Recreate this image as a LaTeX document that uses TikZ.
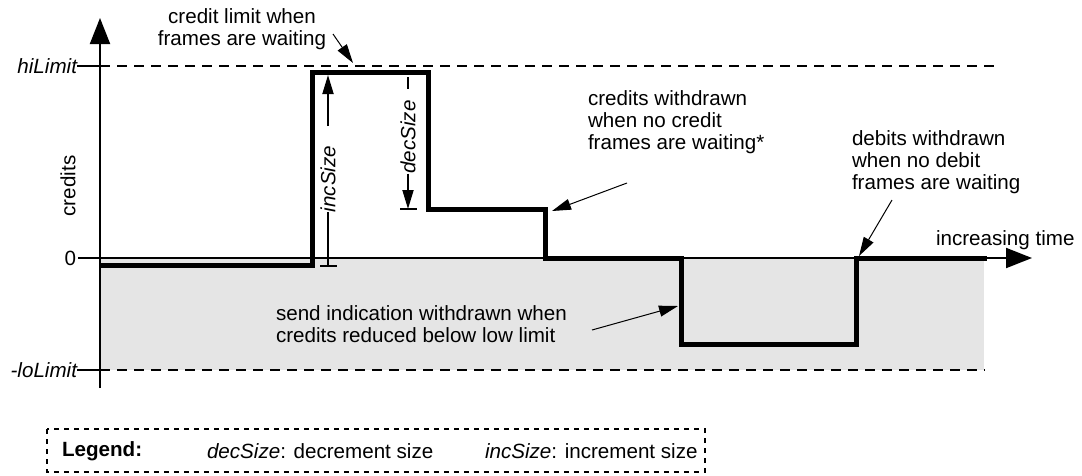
\documentclass[tikz,border=0pt]{standalone}
\usepackage{fontspec}
\setmainfont{Liberation Sans}
\usetikzlibrary{arrows.meta}
\begin{document}
\begin{tikzpicture}[x=1pt,y=-1pt,
  every node/.style={font=\fontsize{20.6}{22}\selectfont, inner sep=0pt, outer sep=0pt},
  axis/.style={line width=2pt},
  lim/.style={line width=2pt, dash pattern=on 10pt off 7pt},
  sig/.style={line width=5pt, line cap=butt, line join=miter},
  bigtip/.style={-{Triangle[length=26pt,width=20pt]}},
  note/.style={line width=1pt, -{Triangle[length=19pt,width=11pt]}},
  dim/.style={line width=1.8pt},
  dimtip/.style={-{Triangle[length=19pt,width=11pt]}},
  label/.style={align=left, anchor=west},
  itlabel/.style={font=\fontsize{20.6}{22}\selectfont\itshape},
  axlabel/.style={anchor=east, itlabel}
]
\useasboundingbox (0,0) rectangle (1082,475);

% region below zero
\fill[gray!20] (100,258) rectangle (984,370);

% axes
\coordinate (ybot) at (100,388);
\coordinate (ytop) at (100,18);
\coordinate (zstart) at (78,258);
\coordinate (zend) at (1032,258);
\draw[axis,bigtip] (ybot) -- (ytop);
\draw[axis,bigtip] (zstart) -- (zend);

% limits
\node[axlabel] (hi) at (77,66) {hiLimit};
\node[axlabel] (lo) at (77,370) {-loLimit};
\node[anchor=east] (zero) at (76,258) {0};
\coordinate (hiA) at (100,66);  \coordinate (hiB) at (1000,66);
\coordinate (loA) at (100,370); \coordinate (loB) at (985,370);
\draw[axis] (hi.east) -- (hiA);
\draw[axis] (lo.east) -- (loA);
\draw[lim] (hiA) -- (hiB);
\draw[lim] (loA) -- (loB);

\node[rotate=90] (credits) at (68,186) {credits};
\node[anchor=west] (time) at (936,240) {increasing time};

% credit signal
\draw[sig] (100,265) -| (312,72) -| (428,209) -| (545,258) -| (681,344) -| (856,258) -- (987,258);

% incSize dimension
\node[rotate=90, itlabel] (inc) at (328,179) {incSize};
\coordinate (incBot) at (328,266);
\coordinate (incMid) at (328,126);
\coordinate (incTop) at (328,75);
\draw[dim] (320,266) -- (337,266);
\draw[dim] (incBot) -- (inc.west);
\draw[dim,dimtip] (incMid) -- (incTop);

% decSize dimension
\node[rotate=90, itlabel] (dec) at (408,137) {decSize};
\coordinate (decTop) at (408,77);
\coordinate (decMid) at (408,89);
\coordinate (decBot) at (408,209);
\draw[dim] (decTop) -- (decMid);
\draw[dim,dimtip] (dec.west) -- (decBot);
\draw[dim] (400,209) -- (417,209);

% annotations
\node[align=center] (nHi) at (242,29) {credit limit when\\frames are waiting};
\coordinate (nHiS) at (333,34);
\coordinate (nHiT) at (353,63);
\draw[note] (nHiS) -- (nHiT);

\node[label] (nCr) at (588,122) {credits withdrawn\\when no credit\\frames are waiting*};
\coordinate (nCrS) at (627,183);
\coordinate (nCrT) at (552,211);
\draw[note] (nCrS) -- (nCrT);

\node[label] (nDb) at (852,162) {debits withdrawn\\when no debit\\frames are waiting};
\coordinate (nDbS) at (892,200);
\coordinate (nDbT) at (859,256);
\draw[note] (nDbS) -- (nDbT);

\node[label] (nSend) at (276,324) {send indication withdrawn when\\credits reduced below low limit};
\coordinate (nSendS) at (592,330);
\coordinate (nSendT) at (678,306);
\draw[note] (nSendS) -- (nSendT);

% legend
\draw[line width=1.5pt, dash pattern=on 5pt off 5pt] (47,429) rectangle (705,472);
\node[anchor=west, font=\fontsize{20.6}{22}\selectfont\bfseries] (leg) at (62,451) {Legend:};
\node[anchor=west] (legDec) at (207,451) {\textit{decSize}: decrement size};
\node[anchor=west] (legInc) at (485,451) {\textit{incSize}: increment size};
\end{tikzpicture}
\end{document}
